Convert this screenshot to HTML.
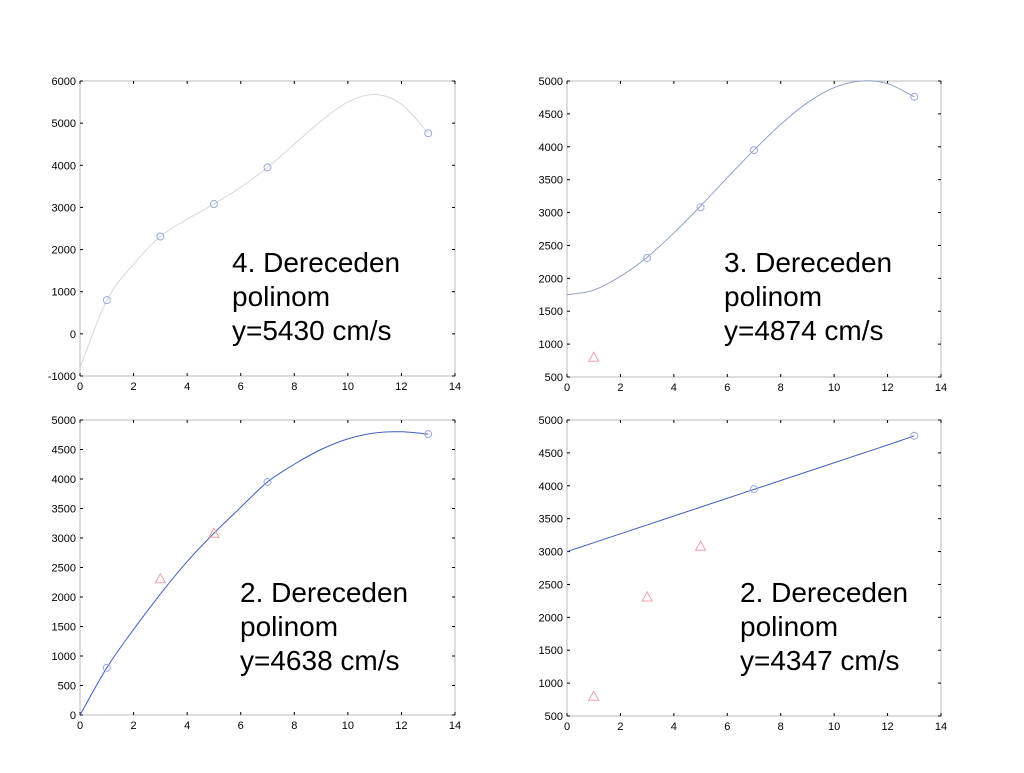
<!DOCTYPE html>
<html><head><meta charset="utf-8"><style>
body{margin:0;background:#fff;width:1024px;height:768px;overflow:hidden}
svg{font-family:"Liberation Sans",sans-serif}
</style></head><body>
<svg id="s" width="1024" height="768"></svg>
<script>
const xTicks=[0,2,4,6,8,10,12,14];
const ptX=[1,3,5,7,13];
const ptY=[800,2310,3080,3950,4760];
const curveX=[0,1,2,3,4,5,6,7,8,9,10,11,12,13];
const curve1=[-800,800,1650,2310,2720,3080,3480,3950,4500,5050,5500,5680,5450,4760];
const curve2=[1750,1820,2030,2320,2690,3100,3530,3950,4340,4670,4900,5000,4960,4760];
const curve3=[0,800,1450,2050,2600,3080,3520,3950,4250,4500,4680,4780,4800,4760];
const curve4=[3000,3135,3270,3405,3540,3675,3810,3945,4080,4215,4350,4485,4620,4760];
const yTicks1=[-1000,0,1000,2000,3000,4000,5000,6000];
const yTicks2=[500,1000,1500,2000,2500,3000,3500,4000,4500,5000];
const yTicks3=[0,500,1000,1500,2000,2500,3000,3500,4000,4500,5000];
const tri2=[0], tri3=[1,2], tri4=[0,1,2];
const circ1=[0,1,2,3,4], circ2=[1,2,3,4], circ3=[0,3,4], circ4=[3,4];
const panels=[
 {n:'polynomial-4',x0:80,x1:455,yt:81,yb:376,ymin:-1000,ymax:6000,ticks:yTicks1,curve:curve1,col:'#d4dad4',tri:[],circ:circ1,tx:232,ty:272,lab:['4. Dereceden','polinom','y=5430 cm/s']},
 {n:'polynomial-3',x0:567,x1:941,yt:81,yb:377,ymin:500,ymax:5000,ticks:yTicks2,curve:curve2,col:'#8ea0c8',tri:tri2,circ:circ2,tx:724,ty:272,lab:['3. Dereceden','polinom','y=4874 cm/s']},
 {n:'polynomial-2a',x0:80,x1:455,yt:420,yb:715,ymin:0,ymax:5000,ticks:yTicks3,curve:curve3,col:'#4060c0',tri:tri3,circ:circ3,tx:240,ty:602,lab:['2. Dereceden','polinom','y=4638 cm/s']},
 {n:'polynomial-2b',x0:567,x1:941,yt:420,yb:716,ymin:500,ymax:5000,ticks:yTicks2,curve:curve4,col:'#4060c0',tri:tri4,circ:circ4,tx:740,ty:602,lab:['2. Dereceden','polinom','y=4347 cm/s']}
];
const NS='http://www.w3.org/2000/svg', s=document.getElementById('s');
function mk(t,a,p){const e=document.createElementNS(NS,t);for(const k in a)e.setAttribute(k,a[k]);(p||s).appendChild(e);return e;}
panels.forEach(P=>{
 const g=mk('g',{});
 
 
 const X=v=>P.x0+(v-0)/14*(P.x1-P.x0);
 const Y=v=>P.yb-(v-P.ymin)/(P.ymax-P.ymin)*(P.yb-P.yt);
 const f=mk('rect',{x:P.x0,y:P.yt,width:P.x1-P.x0,height:P.yb-P.yt,fill:'none',stroke:'#bbb','stroke-width':1},g);
 
 
 xTicks.forEach(t=>{const x=X(t);
  mk('line',{x1:x,x2:x,y1:P.yb,y2:P.yb-3,stroke:'#000'},g);
  mk('line',{x1:x,x2:x,y1:P.yt,y2:P.yt+3,stroke:'#000'},g);
  const tl=mk('text',{x:x,y:P.yb+14,'font-size':11,'text-anchor':'middle'},g);tl.textContent=t;
  
  });
 P.ticks.forEach(t=>{const y=Y(t);
  mk('line',{x1:P.x0,x2:P.x0+3,y1:y,y2:y,stroke:'#000'},g);
  mk('line',{x1:P.x1,x2:P.x1-3,y1:y,y2:y,stroke:'#000'},g);
  const tl=mk('text',{x:P.x0-4,y:y+4,'font-size':11,'text-anchor':'end'},g);tl.textContent=t;
  
  });
 const pts=curveX.map((x,i)=>[X(x),Y(P.curve[i])]);
 let d='M'+pts[0][0]+','+pts[0][1];
 for(let i=0;i<pts.length-1;i++){const p0=pts[Math.max(0,i-1)],p1=pts[i],p2=pts[i+1],p3=pts[Math.min(pts.length-1,i+2)];
  d+=' C'+(p1[0]+(p2[0]-p0[0])/6)+','+(p1[1]+(p2[1]-p0[1])/6)+' '+(p2[0]-(p3[0]-p1[0])/6)+','+(p2[1]-(p3[1]-p1[1])/6)+' '+p2[0]+','+p2[1];}
 const c=mk('path',{d:d,fill:'none',stroke:P.col,'stroke-width':1},g);
 
 
 P.circ.forEach(i=>{const m=mk('circle',{cx:X(ptX[i]),cy:Y(ptY[i]),r:3.5,fill:'none',stroke:'#9aa8e0'},g);
  
  });
 P.tri.forEach(i=>{const x=X(ptX[i]),y=Y(ptY[i]);
  const m=mk('polygon',{points:`${x},${y-5} ${x-5},${y+4} ${x+5},${y+4}`,fill:'none',stroke:'#f0a0a8'},g);
  
  });
 const tx=mk('text',{x:P.tx,y:P.ty,'font-size':28,fill:'#000'},g);
 
 
 P.lab.forEach((l,i)=>{const ts=mk('tspan',{x:P.tx,y:P.ty+i*34},tx);ts.textContent=l;});
});
</script>
</body></html>
